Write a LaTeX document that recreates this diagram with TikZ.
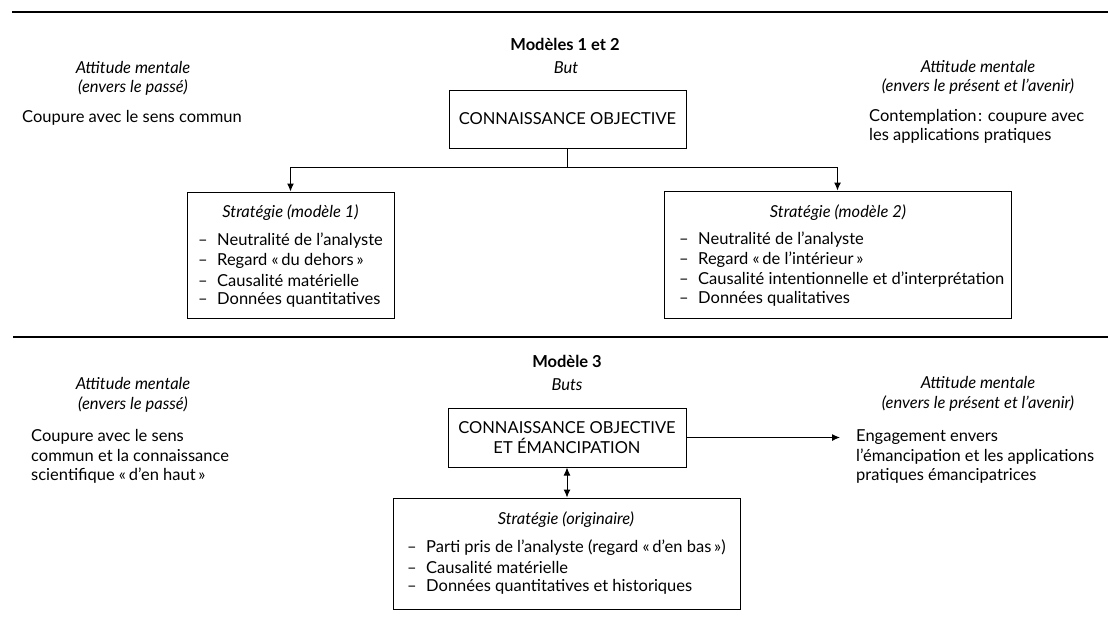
\documentclass[tikz,border=0pt]{standalone}
\usepackage{fontspec}
\setmainfont{Lato}
\usetikzlibrary{arrows.meta}
\newcommand{\sz}{\fontsize{16.5}{19.5}\selectfont}
\newcommand{\tiret}{\makebox[19pt][l]{--}}

\begin{document}
\begin{tikzpicture}[x=1pt,y=-1pt,font=\sz,
  fleche/.tip={Latex[length=8pt,width=7pt]},
  box/.style={draw,line width=1pt,inner sep=0pt},
  head/.style={font=\sz\itshape},
  titre/.style={font=\sz\bfseries},
  item/.style={anchor=west,inner sep=0pt},
  bloc/.style={anchor=west,inner sep=0pt,align=left},
  link/.style={line width=1pt,-fleche}]
  \useasboundingbox (0,0) rectangle (1108,635);
  % modeles 1 et 2
  \draw[line width=2.6pt] (12,12) -- (1108,12);
  \node[titre] (titre12) at (565,44) {Modèles 1 et 2};
  \node[head] (but12) at (566,68) {But};
  \node[box,minimum width=237pt,minimum height=58pt] (obj12) at (567.5,119) {CONNAISSANCE OBJECTIVE};
  \node[head,align=center] (att12g) at (133,78.5) {Attitude mentale\\(envers le passé)};
  \node[bloc] (passe12) at (22,118) {Coupure avec le sens commun};
  \node[head,align=center] (att12d) at (978,77.5) {Attitude mentale\\(envers le présent et l’avenir)};
  \node[bloc] (avenir12) at (869,126.5) {Contemplation\kern1.5pt: coupure avec\\les applications pratiques};
  \node[box,minimum width=207pt,minimum height=126pt] (strat1) at (290.5,255) {};
  \node[head] (strat1t) at (290.5,213) {Stratégie (modèle 1)};
  \foreach \t [count=\i] in {Neutralité de l’analyste,Regard «\,du dehors\,»,Causalité matérielle,Données quantitatives}
    \node[item] (strat1-\i) at (198,{221.5+19.6*\i}) {\tiret\t};
  \node[box,minimum width=347pt,minimum height=127pt] (strat2) at (837.5,254.5) {};
  \node[head] (strat2t) at (838,213) {Stratégie (modèle 2)};
  \foreach \t [count=\i] in {Neutralité de l’analyste,Regard «\,de l’intérieur\,»,Causalité intentionnelle et d’interprétation,Données qualitatives}
    \node[item] (strat2-\i) at (679,{220.5+19.6*\i}) {\tiret\t};
  \coordinate (fourche) at (567.5,167);
  \draw[line width=1pt] (obj12) -- (fourche);
  \draw[link] (fourche) -| (strat1);
  \draw[link] (fourche) -| (strat2);
  % modele 3
  \draw[line width=2.6pt] (13,337) -- (1108,337);
  \node[titre] (titre3) at (567,361) {Modèle 3};
  \node[head] (buts3) at (567,385) {Buts};
  \node[box,minimum width=238pt,minimum height=59pt,align=center] (obj3) at (567,437.5) {CONNAISSANCE OBJECTIVE\\ET ÉMANCIPATION};
  \node[head,align=center] (att3g) at (133,395) {Attitude mentale\\(envers le passé)};
  \node[bloc] (passe3) at (31,456.5) {Coupure avec le sens\\commun et la connaissance\\scientifique «\,d’en haut\,»};
  \node[head,align=center] (att3d) at (978,394) {Attitude mentale\\(envers le présent et l’avenir)};
  \node[bloc] (avenir3) at (856,456.5) {Engagement envers\\l’émancipation et les applications\\pratiques émancipatrices};
  \node[box,minimum width=347pt,minimum height=111pt] (strat3) at (567,553.5) {};
  \node[head] (strat3t) at (566,520) {Stratégie (originaire)};
  \foreach \t [count=\i] in {Parti pris de l’analyste (regard «\,d’en bas\,»),Causalité matérielle,Données quantitatives et historiques}
    \node[item] (strat3-\i) at (407,{528.5+19.5*\i}) {\tiret\t};
  \coordinate (pointe3) at (840,437.5);
  \draw[link] (obj3) -- (pointe3);
  \draw[link,fleche-fleche] (obj3) -- (strat3);
\end{tikzpicture}
\end{document}
